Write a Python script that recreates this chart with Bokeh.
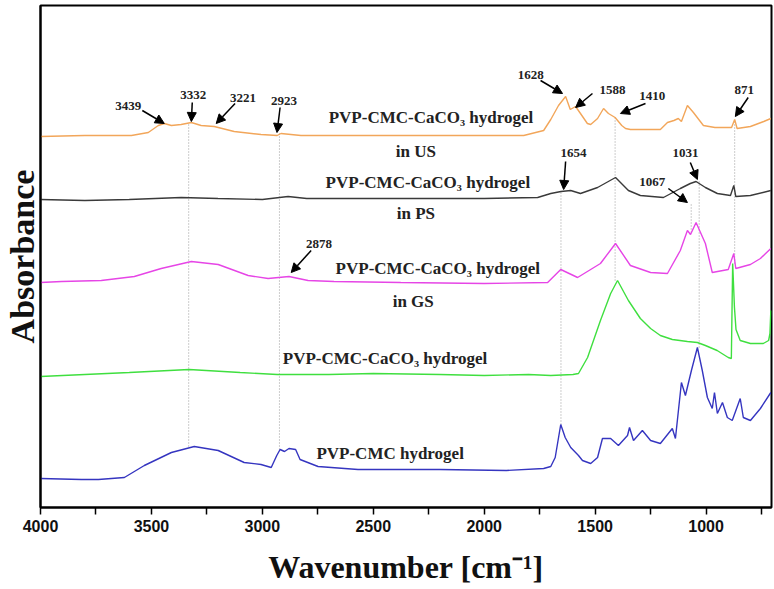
from bokeh.plotting import figure
from bokeh.models import Range1d, FixedTicker, Arrow, NormalHead, ColumnDataSource
from bokeh.core.properties import value
from bokeh.embed import file_html
from bokeh.resources import INLINE

# ---------------- data (wavenumber cm-1, stacked absorbance, arbitrary units) -------------
wn_us = [4000, 3800, 3590, 3514, 3469, 3442, 3410, 3366, 3320, 3276, 3217, 3127, 3006, 2933, 2916,
         2826, 2500, 2000, 1822, 1732, 1700, 1665, 1633, 1612, 1588, 1566, 1535, 1520, 1489, 1462,
         1440, 1410, 1380, 1363, 1341, 1250, 1206, 1174, 1145, 1125, 1111, 1084, 1057, 1012, 960,
         885, 871, 860, 800, 740, 708]
abs_us = [371, 372, 372, 375, 382, 384, 382, 383, 385, 382, 381, 376, 373, 372, 374,
          372, 372, 372, 372, 377, 388, 402, 411, 398, 401, 394, 384, 383, 389, 399,
          394, 390, 382, 379, 378, 378, 378, 385, 387, 389, 386, 402, 395, 382, 380,
          380, 388, 379, 381, 386, 389]

wn_ps = [4000, 3800, 3600, 3366, 3200, 3000, 2884, 2800, 2400, 2000, 1759, 1700, 1654, 1610, 1566,
         1489, 1408, 1350, 1296, 1192, 1116, 1071, 1045, 1003, 949, 890, 875, 866, 800, 708]
abs_ps = [308, 307, 308, 310, 309, 308, 311, 309, 309, 309, 310, 314, 316, 317, 314,
          320, 330, 317, 312, 310, 319, 324, 326, 320, 314, 312, 322, 311, 312, 317]

wn_gs = [4000, 3905, 3726, 3577, 3456, 3320, 3199, 3064, 2974, 2880, 2794, 2677, 2376, 2000, 1714,
         1655, 1579, 1476, 1408, 1341, 1250, 1174, 1116, 1084, 1070, 1045, 1003, 972, 900, 875,
         866, 800, 755, 708]
abs_gs = [225, 226, 227, 231, 239, 246, 243, 232, 229, 231, 227, 226, 225, 224, 225,
          238, 230, 244, 264, 242, 235, 234, 257, 277, 273, 285, 264, 235, 238, 254,
          239, 243, 249, 259]

wn_ca = [4000, 3800, 3600, 3330, 3100, 2933, 2700, 2500, 2200, 2000, 1800, 1700, 1600, 1575, 1534,
         1476, 1430, 1399, 1350, 1296, 1250, 1206, 1152, 1084, 1039, 1003, 950, 900, 886, 880,
         872, 865, 846, 800, 742, 718, 712, 708]
abs_ca = [131, 133, 135, 138, 135, 133, 133, 134, 133, 132, 133, 132, 133, 134, 150,
          187, 214, 227, 207, 189, 179, 172, 168, 166, 165, 162, 157, 150, 149, 244,
          200, 178, 167, 164, 164, 167, 174, 197]

wn_cmc = [4000, 3816, 3739, 3622, 3532, 3410, 3307, 3199, 3082, 3006, 2960, 2935, 2920, 2900, 2880,
          2850, 2830, 2749, 2569, 2200, 1900, 1732, 1700, 1680, 1655, 1635, 1610, 1575, 1557, 1520,
          1489, 1467, 1430, 1395, 1354, 1345, 1327, 1287, 1250, 1206, 1152, 1138, 1111, 1093, 1066,
          1039, 1017, 994, 972, 962, 949, 926, 904, 882, 846, 832, 800, 755, 708]
abs_cmc = [29, 28, 28, 30, 42, 55, 61, 57, 45, 43, 40, 52, 58, 56, 59,
           58, 48, 41, 38, 38, 37, 39, 41, 50, 83, 70, 60, 52, 47, 44,
           50, 69, 69, 62, 72, 80, 67, 77, 67, 64, 79, 69, 125, 112, 137,
           160, 137, 110, 99, 115, 94, 105, 90, 87, 109, 90, 87, 99, 115]

# curve labels
curve_names = ["PVP-CMC-CaCO\u2083 hydrogel", "in US",
               "PVP-CMC-CaCO\u2083 hydrogel", "in PS",
               "PVP-CMC-CaCO\u2083 hydrogel", "in GS",
               "PVP-CMC-CaCO\u2083 hydrogel", "PVP-CMC hydrogel"]
# peak annotations
peak_names = ["3439", "3332", "3221", "2923", "1628", "1588", "1410", "871",
              "1654", "1031", "1067", "2878"]
# dotted guide lines at band positions
guide_wn = [3332, 2923, 1654, 1410, 1067, 1031, 871]

# ---------------- positions (layout) -------------
curve_label_x = [2240, 2308, 2254, 2308, 2209, 2320, 2447, 2424]
curve_label_y = [390, 356, 325, 294, 239, 206, 149, 54]

peak_label_x = [3604, 3312, 3087, 2902, 1790, 1422, 1242, 828, 1597, 1093, 1242, 2745]
peak_label_y = [402, 413, 410, 407, 433, 418, 412, 418, 355, 355, 326, 264]
arrow_x0 = [3541, 3316, 3123, 2920, 1746, 1512, 1273, 810, 1633, 1071, 1170, 2780]
arrow_y0 = [397, 405, 404, 400, 427, 414, 404, 410, 346, 345, 319, 257]
arrow_x1 = [3442, 3320, 3208, 2934, 1647, 1588, 1386, 868, 1642, 1039, 1084, 2870]
arrow_y1 = [384, 386, 384, 375, 414, 400, 394, 391, 318, 328, 305, 235]

guide_top = [385, 374, 316, 392, 304, 326, 388]
guide_bottom = [61, 58, 83, 227, 275, 160, 244]

# ---------------- figure -------------
p = figure(width=774, height=589, output_backend="svg", toolbar_location=None,
           x_range=Range1d(4000, 705), y_range=Range1d(0, 502),
           min_border_left=39, min_border_right=3, min_border_top=5, min_border_bottom=82,
           background_fill_color="white", border_fill_color="white")
p.grid.visible = False
p.outline_line_color = "black"
p.outline_line_width = 2

# guide lines
p.segment(x0=guide_wn, y0=guide_bottom, x1=guide_wn, y1=guide_top,
          line_color="#9a9a9a", line_width=1, line_dash="1 2")

# spectra
p.line(wn_cmc, abs_cmc, line_color="#3535C0", line_width=1.4)
p.line(wn_ca, abs_ca, line_color="#3FDF3F", line_width=1.4)
p.line(wn_gs, abs_gs, line_color="#E645E6", line_width=1.4)
p.line(wn_ps, abs_ps, line_color="#3a3a3a", line_width=1.4)
p.line(wn_us, abs_us, line_color="#F2A65A", line_width=1.4)

# labels
p.text(x=curve_label_x, y=curve_label_y, text=curve_names,
       text_font=value("Liberation Serif"), text_font_style="bold", text_font_size="17px",
       text_align="center", text_baseline="middle", text_color="#222222")
p.text(x=peak_label_x, y=peak_label_y, text=peak_names,
       text_font=value("Liberation Serif"), text_font_style="bold", text_font_size="13px",
       text_align="center", text_baseline="middle", text_color="#222222")

arrow_src = ColumnDataSource(dict(xs=arrow_x0, ys=arrow_y0, xe=arrow_x1, ye=arrow_y1))
p.add_layout(Arrow(end=NormalHead(size=9, fill_color="black", line_color="black", line_width=1),
                   x_start="xs", y_start="ys", x_end="xe", y_end="ye", source=arrow_src,
                   line_color="black", line_width=1.5))

# axes
p.xaxis.ticker = FixedTicker(ticks=[4000, 3500, 3000, 2500, 2000, 1500, 1000],
                             minor_ticks=[3750, 3250, 2750, 2250, 1750, 1250, 750])
p.xaxis.axis_line_width = 2
p.xaxis.major_tick_in = 0
p.xaxis.major_tick_out = 7
p.xaxis.minor_tick_in = 0
p.xaxis.minor_tick_out = 7
p.xaxis.major_tick_line_width = 1.5
p.xaxis.minor_tick_line_width = 1.5
p.xaxis.major_label_text_font = "Liberation Sans"
p.xaxis.major_label_text_font_style = "bold"
p.xaxis.major_label_text_font_size = "16px"
p.xaxis.major_label_text_color = "#111111"
p.xaxis.major_label_standoff = 5
p.xaxis.axis_label = "Wavenumber [cm\u207b\u00b9]"
p.xaxis.axis_label_text_font = "Liberation Serif"
p.xaxis.axis_label_text_font_style = "bold"
p.xaxis.axis_label_text_font_size = "32px"
p.xaxis.axis_label_text_color = "#111111"
p.xaxis.axis_label_standoff = 14

p.yaxis.ticker = FixedTicker(ticks=[])
p.yaxis.axis_line_width = 2
p.yaxis.major_tick_line_color = None
p.yaxis.minor_tick_line_color = None
p.yaxis.major_tick_out = 0
p.yaxis.major_label_text_font_size = "0px"
p.yaxis.axis_label = "Absorbance"
p.yaxis.axis_label_text_font = "Liberation Serif"
p.yaxis.axis_label_text_font_style = "bold"
p.yaxis.axis_label_text_font_size = "34px"
p.yaxis.axis_label_text_color = "#111111"
p.yaxis.axis_label_standoff = 0

open("out.html", "w").write(file_html(p, INLINE))
